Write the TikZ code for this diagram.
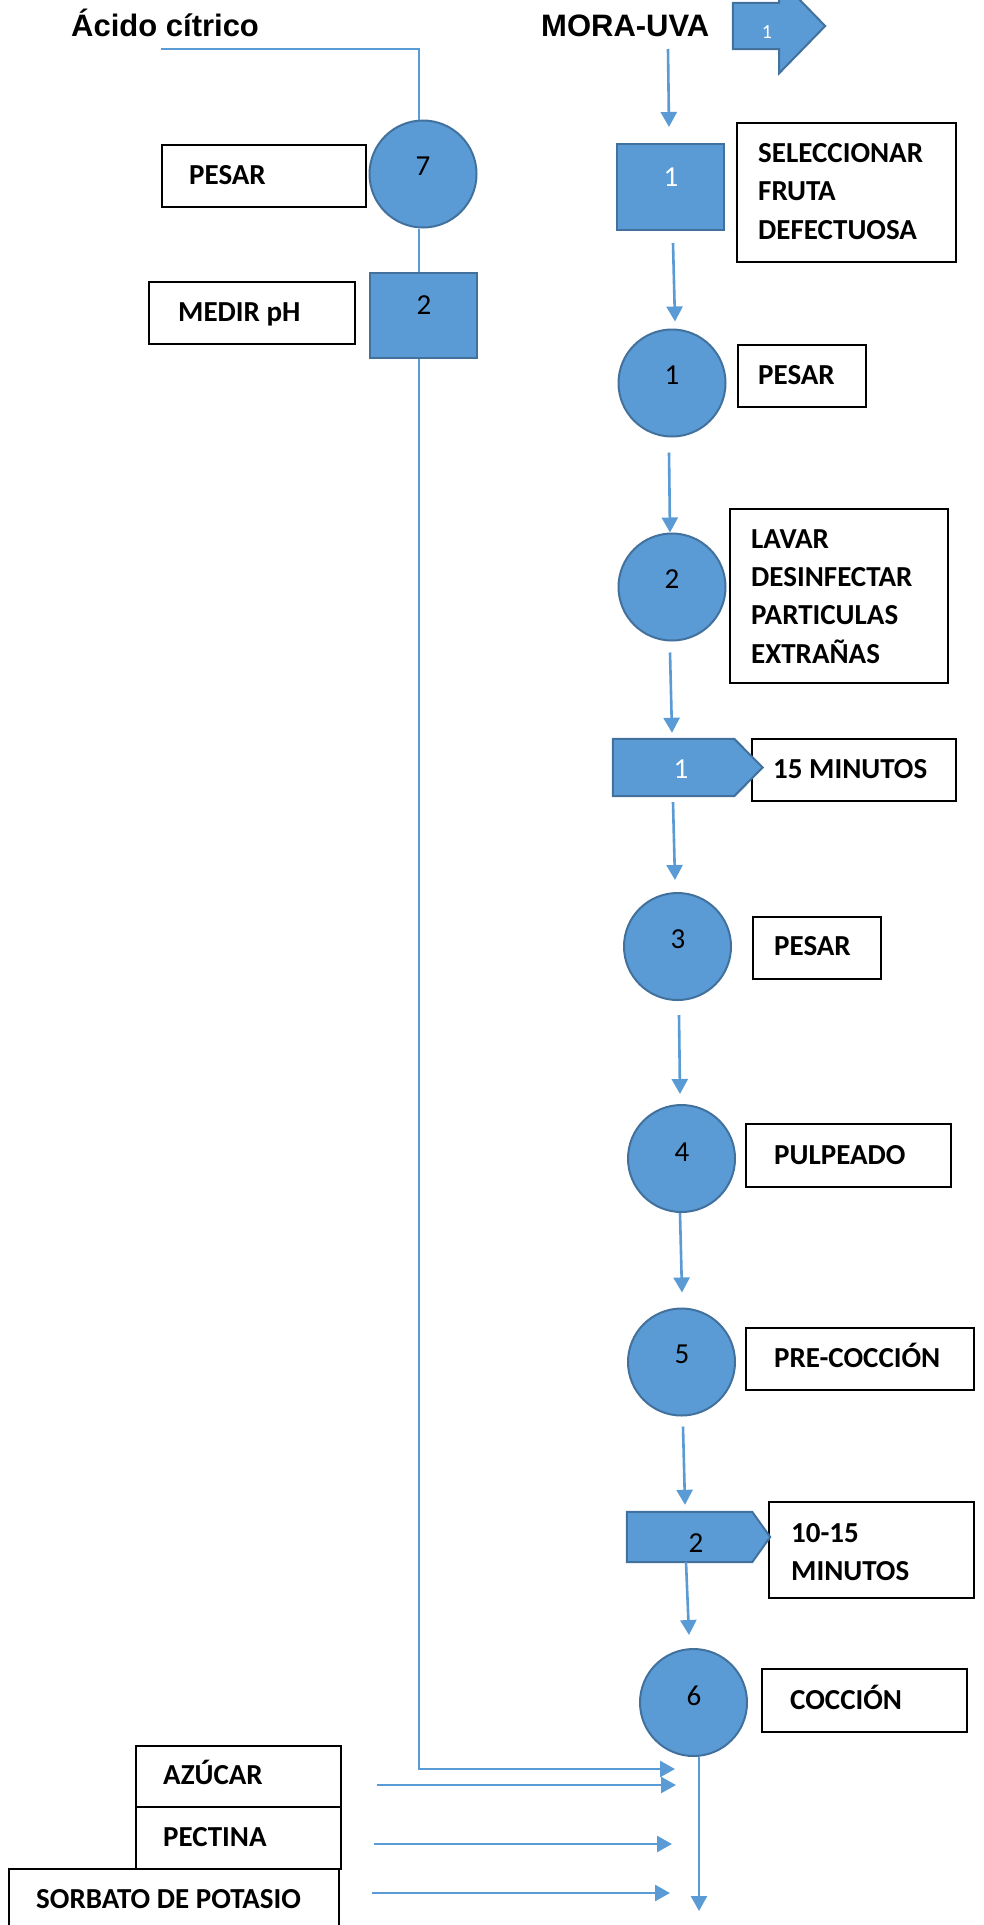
\documentclass[tikz,border=0pt]{standalone}
\usepackage{fontspec}
\usetikzlibrary{arrows.meta,calc}
\newfontfamily\carlito{Carlito}
\newfontfamily\liber{Liberation Sans}
\definecolor{flowblue}{HTML}{5B9BD5}
\definecolor{edgeblue}{HTML}{41719C}
\tikzset{
  flow/.style={draw=flowblue, line width=2.6pt, -{Triangle[length=15pt,width=16pt]}},
  link/.style={draw=flowblue, line width=2.6pt},
  opcircle/.style={circle, draw=edgeblue, line width=2pt, fill=flowblue, minimum size=107pt, inner sep=0pt},
  inspbox/.style={rectangle, draw=edgeblue, line width=2pt, fill=flowblue, inner sep=0pt},
  shapefill/.style={draw=edgeblue, line width=2pt, fill=flowblue},
  frame/.style={rectangle, inner sep=0pt},
  notebox/.style={rectangle, draw=black, line width=1.4pt, fill=white, inner sep=0pt},
  boxtext/.style={anchor=base west, inner sep=0pt, font=\carlito\bfseries\fontsize{29}{38.5}\selectfont},
  numtext/.style={inner sep=0pt, font=\carlito\fontsize{29}{34}\selectfont},
  titletext/.style={anchor=base west, inner sep=0pt, font=\liber\bfseries\fontsize{31}{36}\selectfont},
}
\begin{document}
\begin{tikzpicture}[x=1pt,y=-1pt]
\useasboundingbox (0,0) rectangle (984,1925);
\clip (0,0) rectangle (984,1925);
\fill[white] (0,0) rectangle (984,1925);

% headings
\node[titletext] (acido) at (71,36) {Ácido cítrico};
\node[titletext] (mora) at (541,36) {MORA-UVA};

% text boxes
\node[notebox, minimum width=204pt, minimum height=62pt] (pesar7) at (264,176) {};
\node[notebox, minimum width=206pt, minimum height=62pt] (medir) at (252,313) {};
\node[notebox, minimum width=219pt, minimum height=139pt] (selec) at (846.5,192.5) {};
\node[notebox, minimum width=128pt, minimum height=62pt] (pesar1) at (802,376) {};
\node[notebox, minimum width=218pt, minimum height=174pt] (lavar) at (839,596) {};
\node[notebox, minimum width=204pt, minimum height=62pt] (min15) at (854,770) {};
\node[notebox, minimum width=128pt, minimum height=62pt] (pesar3) at (817,948) {};
\node[notebox, minimum width=205pt, minimum height=63pt] (pulp) at (848.5,1155.5) {};
\node[notebox, minimum width=228pt, minimum height=62pt] (precoc) at (860,1359) {};
\node[notebox, minimum width=205pt, minimum height=96pt] (min1015) at (871.5,1550) {};
\node[notebox, minimum width=205pt, minimum height=63pt] (cocc) at (864.5,1700.5) {};
\node[notebox, minimum width=205pt, minimum height=61pt] (azucar) at (238.5,1776.5) {};
\node[notebox, minimum width=205pt, minimum height=62pt] (pectina) at (238.5,1838) {};
\node[notebox, minimum width=330pt, minimum height=62pt] (sorbato) at (174,1900) {};

% box texts
\node[boxtext] (tpesar7) at (189,184) {PESAR};
\node[boxtext] (tmedir) at (178,321) {MEDIR pH};
\node[boxtext] (tselec) at (758,162) {\vtop{\baselineskip=38.5pt\hbox{SELECCIONAR}\hbox{FRUTA}\hbox{DEFECTUOSA}}};
\node[boxtext] (tpesar1) at (758,384) {PESAR};
\node[boxtext] (tlavar) at (751,548) {\vtop{\baselineskip=38.4pt\hbox{LAVAR}\hbox{DESINFECTAR}\hbox{PARTICULAS}\hbox{EXTRAÑAS}}};
\node[boxtext] (tmin15) at (773,778) {15 MINUTOS};
\node[boxtext] (tpesar3) at (774,955) {PESAR};
\node[boxtext] (tpulp) at (774,1164) {PULPEADO};
\node[boxtext] (tprecoc) at (774,1367) {PRE-COCCIÓN};
\node[boxtext] (tmin1015) at (791,1542) {\vtop{\baselineskip=38pt\hbox{10-15}\hbox{MINUTOS}}};
\node[boxtext] (tcocc) at (790,1709) {COCCIÓN};
\node[boxtext] (tazucar) at (163,1784) {AZÚCAR};
\node[boxtext] (tpectina) at (163,1846) {PECTINA};
\node[boxtext] (tsorbato) at (36,1908) {SORBATO DE POTASIO};

% operations (circles)
\node[opcircle] (c7) at (423,174) {};
\node[opcircle] (c1) at (672,383) {};
\node[opcircle] (c2) at (672,587) {};
\node[opcircle] (c3) at (677.5,946.5) {};
\node[opcircle] (c4) at (681.5,1158.5) {};
\node[opcircle] (c5) at (681.5,1362) {};
\node[opcircle] (c6) at (693.5,1702.5) {};

% inspections (squares)
\node[inspbox, minimum width=107pt, minimum height=85pt] (sq2) at (423.5,315.5) {};
\node[inspbox, minimum width=107pt, minimum height=86pt] (sq1) at (670.5,187) {};

% transport arrow
\node[frame, minimum width=46pt, minimum height=46pt] (trans) at (756,26) {};
\filldraw[shapefill] (trans.north west) -- (trans.north east) -- ($(trans.north east)+(0,-24)$)
  -- ($(trans.east)+(46,0)$) -- ($(trans.south east)+(0,24)$) -- (trans.south east)
  -- (trans.south west) -- cycle;

% waiting shapes
\node[frame, minimum width=121pt, minimum height=57pt] (p1) at (673.5,767.5) {};
\filldraw[shapefill] (p1.north west) -- (p1.north east) -- ($(p1.east)+(28.5,0)$)
  -- (p1.south east) -- (p1.south west) -- cycle;
\node[frame, minimum width=125pt, minimum height=50pt] (p2) at (689.5,1537) {};
\filldraw[shapefill] (p2.north west) -- (p2.north east) -- ($(p2.east)+(18,0)$)
  -- (p2.south east) -- (p2.south west) -- cycle;

% numbers
\node[numtext] (n7) at ($(c7)+(0,-8)$) {7};
\node[numtext] (n1) at ($(c1)+(0,-8)$) {1};
\node[numtext] (n2) at ($(c2)+(0,-8)$) {2};
\node[numtext] (n3) at ($(c3)+(0.5,-7.5)$) {3};
\node[numtext] (n4) at ($(c4)+(0.5,-6.5)$) {4};
\node[numtext] (n5) at ($(c5)+(0.5,-8)$) {5};
\node[numtext] (n6) at ($(c6)+(0.5,-6.5)$) {6};
\node[numtext] (ns2) at ($(sq2)+(0.5,-10.5)$) {2};
\node[numtext, text=white] (ns1) at ($(sq1)+(0.5,-10)$) {1};
\node[numtext, text=white] (np1) at ($(p1)+(7.5,1.5)$) {1};
\node[numtext] (np2) at ($(p2)+(6.5,6)$) {2};
\node[numtext, text=white, font=\carlito\fontsize{20}{24}\selectfont] (ntrans) at ($(trans)+(11,6)$) {1};

% main flow
\coordinate (moraout) at (668,49);
\draw[flow] (moraout) -- ($(sq1.north)+(-1.5,-16)$);
\draw[flow] ($(sq1.south)+(2.5,12)$) -- ($(c1.north)+(3,-7)$);
\draw[flow] ($(c1.south)+(-3,15)$) -- ($(c2.north)+(-2,0)$);
\draw[flow] ($(c2.south)+(-2,11)$) -- ($(p1.north)+(-1.5,-6)$);
\draw[flow] ($(p1.south)+(-0.5,6)$) -- ($(c3.north)+(-2.5,-12)$);
\draw[flow] ($(c3.south)+(1.5,14)$) -- ($(c4.north)+(-1.5,-10)$);
\draw[flow] ($(c4.south)+(-1.5,0)$) -- ($(c5.north)+(0.5,-15)$);
\draw[flow] ($(c5.south)+(1.5,10)$) -- ($(p2.north)+(-4.5,-7)$);
\draw[flow] ($(p2.south)+(-3.5,0)$) -- ($(c6.north)+(-4.5,-13)$);
\coordinate (out) at (699,1911);
\draw[flow] (c6.south -| out) -- (out);

% citric acid line
\coordinate (acidstart) at (161,49);
\coordinate (acidturn) at (419,49);
\coordinate (acidin) at (675,1769);
\draw[link] (acidstart) -- (acidturn) -- (acidturn |- c7.north);
\draw[link] (acidturn |- c7.south) -- (acidturn |- sq2.north);
\draw[flow] (acidturn |- sq2.south) |- (acidin);

% additions
\coordinate (azin) at (676,1785);
\coordinate (pein) at (672,1844);
\coordinate (soin) at (670,1893);
\draw[flow] ($(azucar.east)+(35,8.5)$) -- (azin);
\draw[flow] ($(pectina.east)+(32,6)$) -- (pein);
\draw[flow] ($(sorbato.east)+(32,-7)$) -- (soin);
\end{tikzpicture}
\end{document}
